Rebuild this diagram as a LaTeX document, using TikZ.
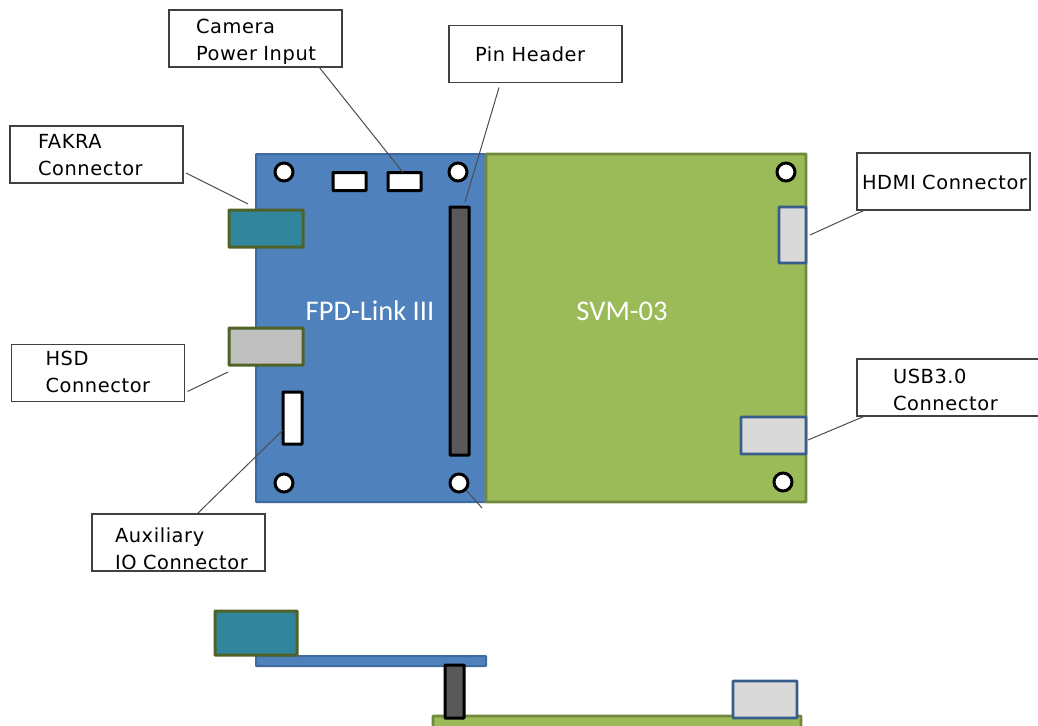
\documentclass[tikz,border=0pt]{standalone}
\usepackage{fontspec}
\setmainfont{DejaVu Sans}
\newfontfamily\lblfont[LetterSpace=3]{DejaVu Sans}
\newfontfamily\boardfont{Carlito}
\definecolor{bblue}{HTML}{4F81BD}
\definecolor{bblueline}{HTML}{3F6A9F}
\definecolor{bgreen}{HTML}{9BBB59}
\definecolor{bgreenline}{HTML}{71893F}
\definecolor{cteal}{HTML}{31859C}
\definecolor{cgray}{HTML}{C0C0C0}
\definecolor{clight}{HTML}{D9D9D9}
\definecolor{pindark}{HTML}{595959}
\definecolor{olive}{HTML}{4F6228}
\definecolor{usbline}{HTML}{385D8A}
\newcommand{\lblline}[3]{\hspace*{#1pt}\vphantom{#3}\smash{\raisebox{-#2pt}{#3}}}
\tikzset{
  part/.style args={#1x#2}{anchor=north west,inner sep=0pt,outer sep=0pt,minimum width=#1pt,minimum height=#2pt,rounded corners=0.5pt},
  pcb/.style={part=#1,fill=bblue,draw=bblueline,line width=2pt},
  pcbg/.style={part=#1,fill=bgreen,draw=bgreenline,line width=2.6pt},
  teal/.style={part=#1,fill=cteal,draw=olive,line width=3pt},
  hsd/.style={part=#1,fill=cgray,draw=olive,line width=3pt},
  usb/.style={part=#1,fill=clight,draw=usbline,line width=2.6pt},
  whitepart/.style={part=#1,fill=white,draw=black,line width=3pt},
  pinpart/.style={part=#1,fill=pindark,draw=black,line width=3pt},
  hole/.style={circle,fill=white,draw=black,line width=3pt,minimum size=18pt,inner sep=0pt},
  lblbox/.style args={#1x#2}{part=#1x#2,text width=#1pt,fill=white,draw=black!75,line width=1.1pt,rounded corners=0pt,align=left,font=\lblfont\fontsize{19.4}{27}\selectfont},
  leader/.style={draw=black!70,line width=1pt},
  boardtext/.style={text=white,inner sep=0pt,font=\boardfont\fontsize{28.5}{32}\selectfont}
}
\begin{document}
\begin{tikzpicture}[x=1pt,y=-1pt]
\useasboundingbox (0,0) rectangle (1038,725);
\clip (0,0) rectangle (1038,725);
% top view boards
\node[pcb=230x348] (fpd) at (256,154) {};
\node[pcbg=320x348] (svm) at (486,154) {};
\node[boardtext] (fpdtext) at (370,311) {FPD-Link III};
\node[boardtext] (svmtext) at (622,311) {SVM-03};
% holes
\node[hole] (h1) at (284,172) {};
\node[hole] (h2) at (458,172) {};
\node[hole] (h3) at (284,483) {};
\node[hole] (h4) at (459,483) {};
\node[hole] (h5) at (786,172) {};
\node[hole] (h6) at (783,482) {};
% parts
\node[whitepart=33x18] (pw1) at (333,172.5) {};
\node[whitepart=33x18] (pw2) at (388,172.5) {};
\node[pinpart=19x248] (pin) at (450,207) {};
\node[teal=74x37] (fakra) at (229,210) {};
\node[hsd=74x37] (hsdc) at (229,328) {};
\node[whitepart=19x52] (aux) at (283,392) {};
\node[usb=27x56] (hdmi) at (779,207) {};
\node[usb=65x37] (usb3) at (741,417) {};
% label boxes
\node[lblbox=173x57] (lcam) at (169,10) {\lblline{27}{3}{Camera}\\\lblline{27}{3}{Power Input}};
\node[lblbox=173x57] (lpin) at (449,25.5) {\lblline{26}{0}{Pin Header}};
\node[lblbox=173x57] (lfak) at (10,126) {\lblline{28}{1}{FAKRA}\\\lblline{28}{1}{Connector}};
\node[lblbox=173x57] (lhsd) at (11.5,344.5) {\lblline{34}{-1.5}{HSD}\\\lblline{34}{-1.5}{Connector}};
\node[lblbox=173x57] (lhdm) at (857,153) {\lblline{5}{1}{HDMI Connector}};
\node[lblbox=200x57] (lusb) at (857,359) {\lblline{36}{2}{USB3.0}\\\lblline{36}{2}{Connector}};
\node[lblbox=173x57] (laux) at (92,514) {\lblline{23}{6}{Auxiliary}\\\lblline{23}{6}{IO Connector}};
% leaders
\draw[leader] ([xshift=150pt]lcam.south west) -- ([xshift=15pt]pw2.north west);
\draw[leader] ([shift={(50pt,-5pt)}]lpin.south west) -- ([shift={(15pt,5pt)}]pin.north west);
\draw[leader] ([shift={(3pt,10pt)}]lfak.south east) -- ([shift={(19pt,6pt)}]fakra.north west);
\draw[leader] ([shift={(3pt,10pt)}]lhsd.south east) -- ([shift={(-1pt,-7pt)}]hsdc.south west);
\draw[leader] ([xshift=105pt]laux.north west) -- ([yshift=14pt]aux.south west);
\draw[leader] (h4.south east) -- ([shift={(-4pt,-6pt)}]fpd.south east);
\draw[leader] ([xshift=8pt]lhdm.south west) -- ([xshift=4pt]hdmi.east);
\draw[leader] ([xshift=8pt]lusb.south west) -- ([shift={(2pt,-4.5pt)}]usb3.east);
% side view
\node[pcb=230x10] (sfpd) at (256,656) {};
\node[teal=82x44] (sfak) at (215,611) {};
\node[pcbg=368x20] (ssvm) at (433,716) {};
\node[pinpart=19x53] (spin) at (445,665) {};
\node[usb=64x37] (susb) at (733,681) {};
\end{tikzpicture}
\end{document}
